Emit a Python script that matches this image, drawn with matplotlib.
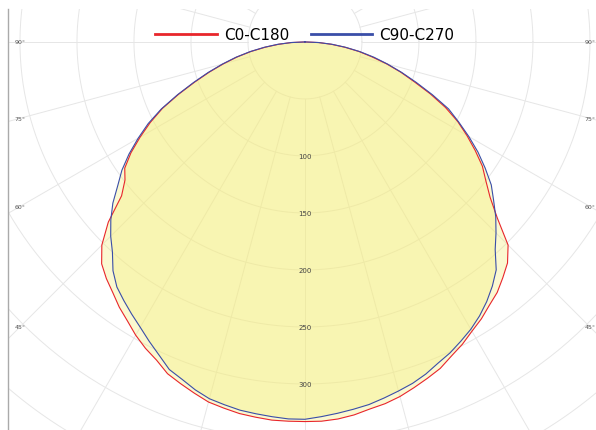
import numpy as np
import matplotlib.pyplot as plt

# gamma angles (deg from nadir) and intensity readings for each half-plane
angles = [0, 2.5, 5, 7.5, 10, 12.5, 15, 17.5, 20, 22.5, 25, 27.5, 30, 32.5, 35, 37.5,
	40, 42.5, 45, 47.5, 50, 52.5, 55, 57.5, 60, 62.5, 65, 67.5, 70, 72.5, 75, 77.5,
	80, 82.5, 85, 87.5, 90]
c0 = [333, 333, 332, 330, 327, 325, 322, 318, 314, 310, 304, 299, 293, 288, 282, 277,
	270, 263, 252, 229, 212, 200, 190, 177, 164, 151, 136, 119, 102, 88, 74, 60,
	48, 35, 23, 12, 0]
c180 = [333, 333, 333, 332, 331, 329, 327, 323, 319, 315, 308, 303, 297, 290, 284, 277,
	271, 264, 252, 234, 210, 199, 193, 181, 167, 153, 138, 120, 103, 88, 74, 61,
	48, 35, 23, 12, 0]
c90 = [330, 329, 327, 325, 323, 320, 317, 314, 310, 305, 301, 296, 291, 285, 278, 270,
	261, 247, 237, 227, 216, 206, 193, 180, 166, 152, 139, 121, 104, 89, 75, 62,
	49, 36, 24, 12, 0]
c270 = [331, 331, 330, 329, 328, 326, 324, 320, 315, 311, 303, 296, 289, 283, 277, 271,
	262, 250, 241, 231, 220, 207, 196, 183, 169, 155, 139, 121, 104, 89, 75, 62,
	49, 36, 24, 12, 0]

ring_values = [100, 150, 200, 250, 300]
angle_labels = [90, 75, 60, 45]

RED = '#e8262b'
BLUE = '#3a4ea8'
FILL = '#f5ee7a'


#join the two half planes into one closed curve, nadir pointing down
def to_xy(left, right):
	a = np.radians(angles)
	left = np.array(left, float)
	right = np.array(right, float)
	x = np.concatenate([-left[::-1] * np.sin(a[::-1]), right[1:] * np.sin(a[1:])])
	y = np.concatenate([-left[::-1] * np.cos(a[::-1]), -right[1:] * np.cos(a[1:])])
	return x, y


fig = plt.figure(figsize=(5.96, 4.31), dpi=100)
ax = fig.add_axes([8 / 596, 0, 588 / 596, 421 / 431])
ax.set_xlim(-260.5, 255.3)
ax.set_ylim(-340.4, 28.9)

#polar grid
t = np.linspace(0, 2 * np.pi, 400)
for r in range(50, 601, 50):
	ax.plot(r * np.cos(t), r * np.sin(t), color='#e6e6e6', lw=0.7, zorder=1)
for a in range(0, 360, 15):
	ar = np.radians(a)
	ax.plot([50 * np.sin(ar), 700 * np.sin(ar)], [-50 * np.cos(ar), -700 * np.cos(ar)],
		color='#e6e6e6', lw=0.7, zorder=1)

#curves
xr, yr = to_xy(c180, c0)
xb, yb = to_xy(c270, c90)
ax.fill(xr, yr, color=FILL, alpha=0.35, lw=0, zorder=2)
ax.fill(xb, yb, color=FILL, alpha=0.35, lw=0, zorder=2)
ax.plot(xr, yr, color=RED, lw=0.8, zorder=3, label='C0-C180')
ax.plot(xb, yb, color=BLUE, lw=0.8, zorder=3, label='C90-C270')

#labels
for r in ring_values:
	ax.text(0, -r, str(r), fontsize=5, color='#444444', ha='center', va='center', zorder=4)
for a in angle_labels:
	yy = -250 * np.cos(np.radians(a)) / np.sin(np.radians(a))
	ax.text(-250, yy, '%d°' % a, fontsize=4.5, color='#555555', ha='center', va='center', zorder=4)
	ax.text(250, yy, '%d°' % a, fontsize=4.5, color='#555555', ha='center', va='center', zorder=4)

for s in ['top', 'right', 'bottom']:
	ax.spines[s].set_visible(False)
ax.spines['left'].set_color('#aaaaaa')
ax.spines['left'].set_linewidth(1.0)
ax.set_xticks([])
ax.set_yticks([])

leg = fig.legend(handles=ax.lines[-2:], loc='center', bbox_to_anchor=(305 / 596, 1 - 36 / 431),
	ncol=2, frameon=False, fontsize=11, handlelength=4, handletextpad=0.5, columnspacing=1.4)
for h in leg.get_lines():
	h.set_linewidth(2)

fig.savefig('out.png', dpi=100)
